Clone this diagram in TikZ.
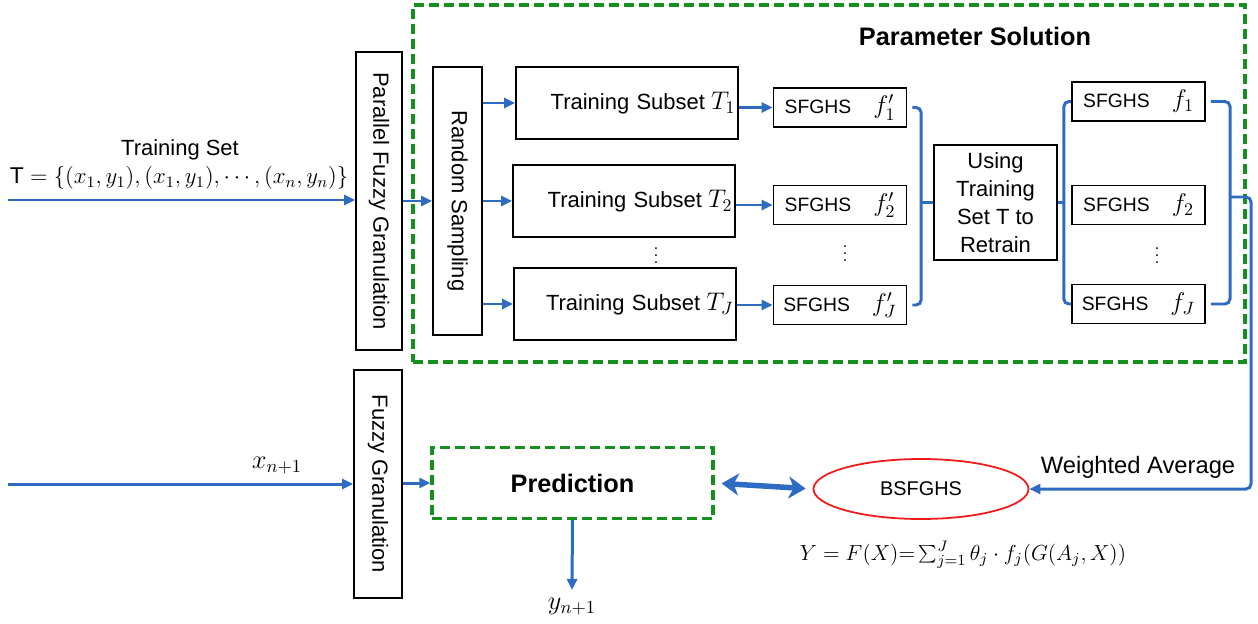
\documentclass[tikz,border=0pt]{standalone}
\usepackage{fix-cm}
\usepackage{fontspec}
\usepackage{graphicx}
\setmainfont{Liberation Sans}
\usetikzlibrary{arrows.meta, positioning, shapes.geometric, calc}
\definecolor{cblue}{HTML}{2E6CC4}
\definecolor{cgreen}{HTML}{15901F}
\definecolor{cred}{HTML}{F01818}
\newcommand{\fsz}[1]{\fontsize{#1}{1.25\dimexpr#1pt\relax}\selectfont}
\tikzset{
  every picture/.style={font=\fsz{12.5}},
  box/.style={draw=black, line width=1pt, inner sep=0pt, align=center},
  subbox/.style={box, minimum height=14.4mm, text width=43.4mm, inner xsep=0.5mm, align=right},
  sfbox/.style={box, minimum width=26.6mm, minimum height=7.8mm, font=\fsz{11}},
  dashbox/.style={draw=cgreen, line width=1.9pt, dash pattern=on 2mm off 1mm},
  arrow/.style={-{Triangle[length=2.2mm, width=2mm]}, draw=cblue, line width=1.7pt},
  dblarrow/.style={{Stealth[length=3.4mm, width=4.4mm, inset=1mm]}-{Stealth[length=3.4mm, width=4.4mm, inset=1mm]}, draw=cblue, line width=1.1mm},
  link/.style={draw=cblue, line width=1.7pt, rounded corners=1mm},
  title/.style={font=\Large\bfseries},
  dotsnode/.style={font=\small, inner sep=0pt},
}
% labels inside the subset and model boxes
\newcommand{\subsetlabel}[1]{Training Subset\;{\fsz{14.5}$#1$}}
\newcommand{\model}[1]{SFGHS\hspace{4.4mm}{\fsz{14.5}$#1$}}

\begin{document}
\begin{tikzpicture}[x=0.2mm, y=-0.2mm]
  \useasboundingbox (0,0) rectangle (1258,624);

  % parameter solution block
  \node[dashbox, minimum width=166.4mm, minimum height=71.4mm] (ps) at (829,183.5) {};
  \node[title] (pstitle) at (975,36) {Parameter Solution};

  % granulation and sampling columns
  \node[box, minimum width=9.2mm, minimum height=59.6mm] (pfg) at (379,201) {\rotatebox{-90}{Parallel Fuzzy Granulation}};
  \node[box, minimum width=9.8mm, minimum height=53.6mm] (rs) at (457.5,201) {\rotatebox{-90}{Random Sampling}};
  \node[box, minimum width=9.6mm, minimum height=45.6mm] (fg) at (378,484) {\rotatebox{-90}{Fuzzy Granulation}};

  % training subsets
  \node[subbox] (sub1) at (627,103) {\subsetlabel{T_1}};
  \node[subbox] (sub2) at (624,201) {\subsetlabel{T_2}};
  \node[subbox] (subJ) at (625,304) {\subsetlabel{T_J}};
  \node[dotsnode] (dots1) at (656,250) {$\vdots$};

  % first-stage models
  \node[sfbox] (sf1) at (840,107.5) {\model{f_1'}};
  \node[sfbox] (sf2) at (840,205) {\model{f_2'}};
  \node[sfbox] (sfJ) at (840,305) {\model{f_J'}};
  \node[dotsnode] (dots2) at (845,248) {$\vdots$};

  \node[box, minimum width=24.6mm, minimum height=23mm, font=\fontsize{12.5}{16}\selectfont] (rt) at (995.5,202.5) {Using\\Training\\Set T to\\Retrain};

  % retrained models
  \node[sfbox] (f1) at (1138.5,101.5) {\model{f_1}};
  \node[sfbox] (f2) at (1138.5,205) {\model{f_2}};
  \node[sfbox] (fJ) at (1138.5,304) {\model{f_J}};
  \node[dotsnode] (dots3) at (1157,250) {$\vdots$};

  % prediction part
  \node[dashbox, minimum width=56.2mm, minimum height=14.2mm, font=\Large\bfseries] (pred) at (572.5,483) {Prediction};
  \node[ellipse, draw=cred, line width=1pt, inner sep=0pt, minimum width=43mm, minimum height=12mm, font=\fsz{11.3}] (bs) at (921,489) {BSFGHS};
  \node[font=\fsz{12.4}] (formula) at (963,555) {$Y = F(X){=}\sum_{j=1}^{J}\theta_j\cdot f_j(G(A_j,X))$};

  % inputs and labels
  \coordinate (tin) at (8,200);
  \coordinate (xin) at (8,484);
  \coordinate (yout) at (572,590);
  \node (tlabel) at (180,150) {Training Set};
  \node[font=\fsz{13}] (tset) at (179,178) {$\mathrm{T}=\{(x_1,y_1),(x_1,y_1),\cdots,(x_n,y_n)\}$};
  \node[font=\fsz{15}] (xlabel) at (277,466) {$x_{n+1}$};
  \node[font=\fsz{15}] (ylabel) at (572,607) {$y_{n+1}$};
  \node[font=\fsz{13.5}] (walabel) at (1138,467) {Weighted Average};

  % connectors
  \draw[arrow] (tin) -- (tin -| pfg.west);
  \draw[arrow] (pfg.east) -- (rs.west);
  \foreach \s in {sub1,sub2,subJ}
    \draw[arrow] (rs.east |- \s.west) -- (\s.west);
  \foreach \s/\f in {sub1/sf1,sub2/sf2,subJ/sfJ}
    \draw[arrow] (\s.east |- \f.west) -- (\f.west);

  \coordinate (lb) at ($(rt.west)+(-12,0)$);
  \draw[link] ([xshift=1mm]sf1.east) -| (lb) |- ([xshift=1mm]sfJ.east);
  \draw[link] (lb) -- (rt.west);
  \coordinate (rb) at ($(rt.east)+(6,0)$);
  \draw[link] (f1.west) -| (rb) |- (fJ.west);
  \draw[link] (rt.east) -- (rb);

  \coordinate (ro) at (1230,197);
  \coordinate (rc) at (1251,197);
  \draw[link] ([xshift=1mm]f1.east) -| (ro) |- ([xshift=1mm]fJ.east);
  \draw[arrow, rounded corners=1mm] (ro) -- (rc) |- (bs.east);

  \draw[arrow] (xin) -- (xin -| fg.west);
  \draw[arrow] (fg.east |- pred.west) -- (pred.west);
  \draw[dblarrow, shorten <=1.4mm, shorten >=1.4mm] (pred.east) -- (bs.west);
  \draw[arrow] (pred.south) -- (yout);
\end{tikzpicture}
\end{document}
